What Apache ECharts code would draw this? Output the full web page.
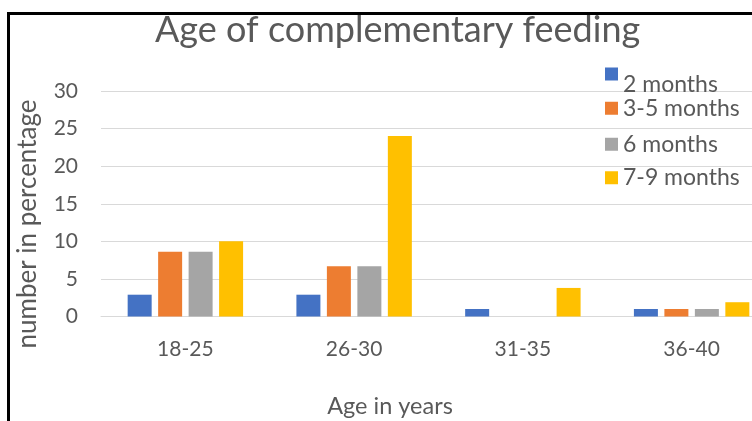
<!DOCTYPE html>
<html>
<head>
<meta charset="utf-8">
<script src="https://cdn.jsdelivr.net/npm/echarts@6/dist/echarts.min.js"></script>
<style>
  html, body { margin: 0; padding: 0; background: #fff; }
  #chart { width: 752px; height: 421px; }
</style>
</head>
<body>
<div id="chart"></div>
<script>
// Age groups on the x axis
const ageGroups = ['18-25', '26-30', '31-35', '36-40'];
// Series (age at which complementary feeding started)
const feedingAges = ['2 months', '3-5 months', '6 months', '7-9 months'];
// Percentages per age group for each series
const twoMonths = [2.9, 2.9, 1, 1];
const threeToFiveMonths = [8.6, 6.7, 0, 1];
const sixMonths = [8.6, 6.7, 0, 1];
const sevenToNineMonths = [10, 24, 3.8, 1.9];
// Y axis range
const yMin = 0, yMax = 30, yStep = 5;

const seriesValues = [twoMonths, threeToFiveMonths, sixMonths, sevenToNineMonths];
const palette = ['#4472C4', '#ED7D31', '#A5A5A5', '#FFC000'];
const textColor = '#595959';
const font = 'Lato';

const chart = echarts.init(document.getElementById('chart'), null, { renderer: 'canvas' });

// one legend block per series so each entry sits at its own height;
// the first entry's swatch sits above its label, so its icon path carries
// an empty segment that stretches the icon box below the square
const legendTops = [67.5, 96.75, 132.75, 166.25];
const legends = feedingAges.map((name, i) => ({
  data: [name],
  orient: 'vertical',
  left: 605,
  top: legendTops[i],
  padding: 0,
  itemWidth: 13,
  itemHeight: i === 0 ? 34 : 13,
  icon: i === 0 ? 'path://M0,0h13v13h-13zM0,34h13' : 'rect',
  selectedMode: false,
  textStyle: { color: textColor, fontFamily: font, fontSize: 23 }
}));

chart.setOption({
  animation: false,
  backgroundColor: '#ffffff',
  title: {
    text: 'Age of complementary feeding',
    left: 155,
    top: 12,
    padding: 0,
    textStyle: { color: textColor, fontFamily: font, fontSize: 36, fontWeight: 'normal' }
  },
  legend: legends,
  // the plot area runs past the right edge of the canvas
  grid: {
    left: 101, width: 675, top: 91, bottom: 104.5,
    containLabel: false,
    outerBoundsMode: 'none'
  },
  xAxis: {
    type: 'category',
    data: ageGroups,
    axisLine: { show: true, lineStyle: { color: '#D9D9D9', width: 1 } },
    axisTick: { show: false },
    axisLabel: { color: textColor, fontFamily: font, fontSize: 21, margin: 22 }
  },
  yAxis: {
    type: 'value',
    min: yMin,
    max: yMax,
    interval: yStep,
    axisLine: { show: false },
    axisTick: { show: false },
    splitLine: { lineStyle: { color: '#D9D9D9', width: 1 } },
    axisLabel: { color: textColor, fontFamily: font, fontSize: 21, margin: 23 }
  },
  series: feedingAges.map((name, i) => ({
    name: name,
    type: 'bar',
    data: seriesValues[i],
    barWidth: 24,
    barGap: '27%',
    itemStyle: { color: palette[i] }
  })),
  graphic: [
    {
      type: 'rect',
      shape: { x: 8.5, y: 13.5, width: 900, height: 900 },
      style: { fill: 'none', stroke: '#000', lineWidth: 3 },
      z: 100
    },
    {
      type: 'text',
      x: 28,
      y: 224,
      rotation: Math.PI / 2,
      style: {
        text: 'number in percentage',
        fill: textColor,
        font: '26px Lato',
        textAlign: 'center',
        textVerticalAlign: 'middle'
      }
    },
    {
      type: 'text',
      x: 390,
      y: 406,
      style: {
        text: 'Age in years',
        fill: textColor,
        font: '23.5px Lato',
        textAlign: 'center',
        textVerticalAlign: 'middle'
      }
    }
  ]
});
</script>
</body>
</html>
